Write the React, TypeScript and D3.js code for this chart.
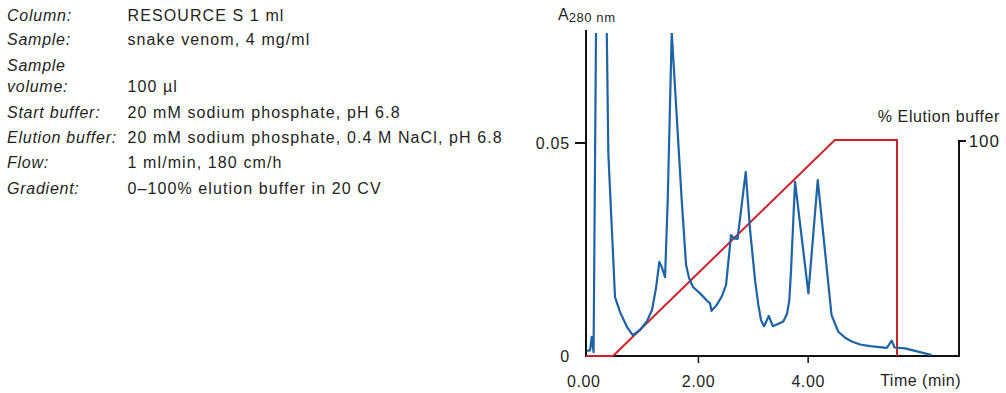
import React from "react";
import * as d3 from "d3";

const infoLabels = ["Column:", "Sample:", "Sample", "volume:", "Start buffer:", "Elution buffer:", "Flow:", "Gradient:"];
const infoValues = ["RESOURCE S 1 ml", "snake venom, 4 mg/ml", "", "100 µl", "20 mM sodium phosphate, pH 6.8", "20 mM sodium phosphate, 0.4 M NaCl, pH 6.8", "1 ml/min, 180 cm/h", "0–100% elution buffer in 20 CV"];
const infoBaselines = [20.7, 45, 70.7, 91.7, 117.7, 142.7, 168.3, 194];

// Absorbance trace: [time (min), A280]
const absTime = [-0.04, 0.024, 0.055, 0.088, 0.206, 0.357, 0.479, 0.571, 0.698, 0.802, 0.935, 1.063, 1.154, 1.227, 1.287, 1.336, 1.391, 1.44, 1.513, 1.695, 1.774, 1.829, 1.901, 2.029, 2.18, 2.211, 2.238, 2.334, 2.43, 2.503, 2.54, 2.594, 2.649, 2.713, 2.862, 2.941, 3.032, 3.092, 3.141, 3.196, 3.282, 3.355, 3.548, 3.615, 3.657, 3.688, 3.761, 4.004, 4.175, 4.426, 4.55, 4.673, 4.795, 4.946, 5.128, 5.433, 5.524, 5.575, 5.767, 5.949, 6.253];
const absValue = [0.0012, 0.0013, 0.0045, 0.0009, 0.2, 0.0476, 0.0138, 0.0103, 0.0068, 0.0049, 0.0061, 0.0082, 0.0108, 0.016, 0.0221, 0.0207, 0.0185, 0.0366, 0.076, 0.0366, 0.0214, 0.0183, 0.0162, 0.0147, 0.0127, 0.0124, 0.0106, 0.012, 0.0141, 0.0167, 0.0214, 0.0284, 0.0276, 0.0275, 0.0432, 0.0296, 0.0178, 0.012, 0.0084, 0.007, 0.0094, 0.007, 0.0081, 0.0099, 0.0131, 0.0202, 0.0409, 0.0147, 0.0413, 0.0096, 0.0057, 0.0043, 0.0034, 0.0027, 0.0023, 0.0019, 0.0036, 0.002, 0.0018, 0.0012, 0.0002];

// Gradient: [time (min), % elution buffer]
const gradTime = [-0.05, 0.443, 4.486, 5.62, 5.62];
const gradValue = [0, 0, 100, 100, 0];

const xTicks = [0, 2, 4];
const xTickLabels = ["0.00", "2.00", "4.00"];
const yTicks = [0, 0.05];
const yTickLabels = ["0", "0.05"];

const FONT = "'Liberation Sans', Arial, sans-serif";
const TEXT = "#231f20";

export default function App() {
  const W = 1006, H = 393;
  const x = d3.scaleLinear().domain([-0.05, 6.75]).range([586, 959]);
  const y = d3.scaleLinear().domain([0, 0.05]).range([356, 143]);
  const yR = d3.scaleLinear().domain([0, 100]).range([356, 140]);

  const absLine = d3.line<number>().x((_, i) => x(absTime[i])).y((_, i) => y(absValue[i]));
  const gradLine = d3.line<number>().x((_, i) => x(gradTime[i])).y((_, i) => yR(gradValue[i]));

  return (
    <svg width={W} height={H} style={{ position: "absolute", left: 0, top: 0 }}>
      <rect width={W} height={H} fill="#fff" />
      <defs>
        <clipPath id="plotclip">
          <rect x={586} y={33} width={373} height={330} />
        </clipPath>
      </defs>
      {infoLabels.map((l, i) => (
        <text key={"l" + i} x={7} y={infoBaselines[i]} fontFamily={FONT} fontSize={16} fontStyle="italic" letterSpacing={0.75} fill={TEXT}>{l}</text>
      ))}
      {infoValues.map((v, i) => (
        <text key={"v" + i} x={127.5} y={infoBaselines[i]} fontFamily={FONT} fontSize={16} letterSpacing={1.1} fill={TEXT}>{v}</text>
      ))}

      {/* axes */}
      <line x1={586} y1={30} x2={586} y2={357} stroke="#111" strokeWidth={2} />
      <line x1={585} y1={356} x2={960} y2={356} stroke="#111" strokeWidth={2} />
      <line x1={959} y1={140} x2={959} y2={357} stroke="#111" strokeWidth={2} />
      <line x1={958} y1={141} x2={966} y2={141} stroke="#111" strokeWidth={2} />
      {yTicks.map((t, i) => (
        <g key={"yt" + i}>
          {t > 0 && <line x1={575} y1={y(t)} x2={586} y2={y(t)} stroke="#111" strokeWidth={2} />}
          <text x={570} y={y(t) + 6} textAnchor="end" fontFamily={FONT} fontSize={16} letterSpacing={0.8} fill={TEXT}>{yTickLabels[i]}</text>
        </g>
      ))}
      {xTicks.map((t, i) => (
        <g key={"xt" + i}>
          {t > 0 && <line x1={x(t)} y1={356} x2={x(t)} y2={363} stroke="#111" strokeWidth={1.5} />}
          <text x={x(t) - (t === 0 ? 5 : 0)} y={386.5} textAnchor="middle" fontFamily={FONT} fontSize={16} letterSpacing={0.6} fill={TEXT}>{xTickLabels[i]}</text>
        </g>
      ))}
      <text x={961} y={386} textAnchor="end" fontFamily={FONT} fontSize={16} letterSpacing={0.5} fill={TEXT}>Time (min)</text>
      <text x={558} y={19.5} fontFamily={FONT} fontSize={16} fill={TEXT}>A<tspan fontSize={13} dy={2} letterSpacing={0.6}>280 nm</tspan></text>
      <text x={1000} y={122} textAnchor="end" fontFamily={FONT} fontSize={16} letterSpacing={0.6} fill={TEXT}>% Elution buffer</text>
      <text x={1000} y={147} textAnchor="end" fontFamily={FONT} fontSize={17} letterSpacing={1} fill={TEXT}>100</text>

      <path d={gradLine(gradTime) || ""} fill="none" stroke="#cc2229" strokeWidth={2} />
      <g clipPath="url(#plotclip)">
        <path d={absLine(absTime) || ""} fill="none" stroke="#1d63a6" strokeWidth={2.2} strokeLinejoin="round" />
      </g>
    </svg>
  );
}
